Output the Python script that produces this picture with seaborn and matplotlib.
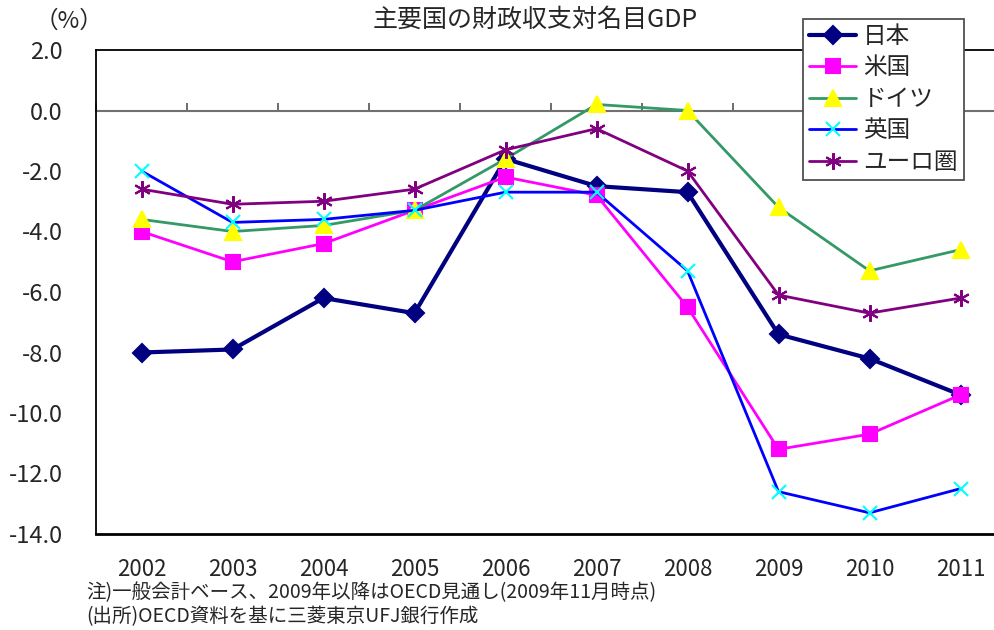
import numpy as np
import pandas as pd
import matplotlib
matplotlib.use('Agg')
import matplotlib.pyplot as plt
import seaborn as sns

# data (% of nominal GDP)
years = [2002, 2003, 2004, 2005, 2006, 2007, 2008, 2009, 2010, 2011]
japan = [-8.0, -7.9, -6.2, -6.7, -1.6, -2.5, -2.7, -7.4, -8.2, -9.4]
usa = [-4.0, -5.0, -4.4, -3.3, -2.2, -2.8, -6.5, -11.2, -10.7, -9.4]
germany = [-3.6, -4.0, -3.8, -3.3, -1.6, 0.2, 0.0, -3.2, -5.3, -4.6]
uk = [-2.0, -3.7, -3.6, -3.3, -2.7, -2.7, -5.3, -12.6, -13.3, -12.5]
euro = [-2.6, -3.1, -3.0, -2.6, -1.3, -0.6, -2.0, -6.1, -6.7, -6.2]
names = ['日本', '米国', 'ドイツ', '英国', 'ユーロ圏']
yticks = np.arange(-14.0, 2.1, 2.0)

title = '主要国の財政収支対名目GDP'
note1 = '注)一般会計ベース、2009年以降はOECD見通し(2009年11月時点)'
note2 = '(出所)OECD資料を基に三菱東京UFJ銀行作成'

sns.set_theme(style='white')
plt.rcParams['font.family'] = ['Noto Sans CJK JP', 'DejaVu Sans']

# line style per series: line colour, marker, marker colour, width, marker size
styles = [
    dict(color='#000080', marker='D', mfc='#000080', mec='#000080', lw=3.0, ms=9),
    dict(color='#FF00FF', marker='s', mfc='#FF00FF', mec='#FF00FF', lw=2.0, ms=10),
    dict(color='#339966', marker='^', mfc='#FFFF00', mec='#FFFF00', lw=2.0, ms=11),
    dict(color='#0000FF', marker='x', mfc='#00FFFF', mec='#00FFFF', lw=2.0, ms=10),
    dict(color='#800080', marker=(6, 2, 0), mfc='#800080', mec='#800080', lw=2.0, ms=12),
]
series = [japan, usa, germany, uk, euro]

fig = plt.figure(figsize=(9.94, 6.3), dpi=100)
ax = fig.add_axes([96 / 994, 1 - 534 / 630, 910 / 994, 484 / 630])

for name, vals, st in zip(names, series, styles):
    sns.lineplot(x=years, y=vals, ax=ax, label=name, color=st['color'],
                 marker=st['marker'], markerfacecolor=st['mfc'],
                 markeredgecolor=st['mec'], markeredgewidth=1.5,
                 linewidth=st['lw'], markersize=st['ms'])

ax.set_xlim(years[0] - 0.5, years[-1] + 0.5)
ax.set_ylim(yticks[0], yticks[-1])
ax.set_yticks(yticks)
ax.set_yticklabels([f'{v:.1f}' for v in yticks])
ax.set_xticks(years)
ax.set_xticklabels([str(y) for y in years])
ax.set_xlabel('')
ax.set_ylabel('')

for side in ['left', 'top', 'bottom']:
    ax.spines[side].set_visible(True)
    ax.spines[side].set_color('black')
ax.spines['left'].set_linewidth(1.3)
ax.spines['top'].set_linewidth(1.3)
ax.spines['bottom'].set_linewidth(2.0)
ax.spines['right'].set_visible(False)

ax.tick_params(axis='y', direction='in', length=5, width=1.5, color='#808080',
               labelsize=17, pad=24)
ax.tick_params(axis='x', length=0, labelsize=16, pad=17)

# category axis drawn at y = 0 with boundary ticks
zero_ax = ax.secondary_xaxis(0, transform=ax.transData)
zero_ax.set_xticks(np.arange(years[0] - 0.5, years[-1] + 1.0, 1.0))
zero_ax.tick_params(axis='x', direction='in', length=6, width=1.3,
                    color='#606060', labelbottom=False)
zero_ax.spines['bottom'].set_color('#707070')
zero_ax.spines['bottom'].set_linewidth(1.5)

ax.legend(loc='upper left', bbox_to_anchor=(803 / 994, 1 - 19 / 630),
          bbox_transform=fig.transFigure, borderaxespad=0, fontsize=17,
          frameon=True, fancybox=False, edgecolor='#505050', framealpha=1,
          handlelength=2.0, handletextpad=0.3, labelspacing=0.36,
          borderpad=0.25)
ax.get_legend().get_frame().set_linewidth(1.3)

fig.text(535 / 994, 1 - 20 / 630, title, ha='center', va='center', fontsize=18)
fig.text(35 / 994, 1 - 21 / 630, '（%）', ha='left', va='center', fontsize=17)
fig.text(86 / 994, 1 - 593 / 630, note1, ha='left', va='center', fontsize=14)
fig.text(86 / 994, 1 - 617 / 630, note2, ha='left', va='center', fontsize=14)

fig.savefig('out.png', dpi=100)
